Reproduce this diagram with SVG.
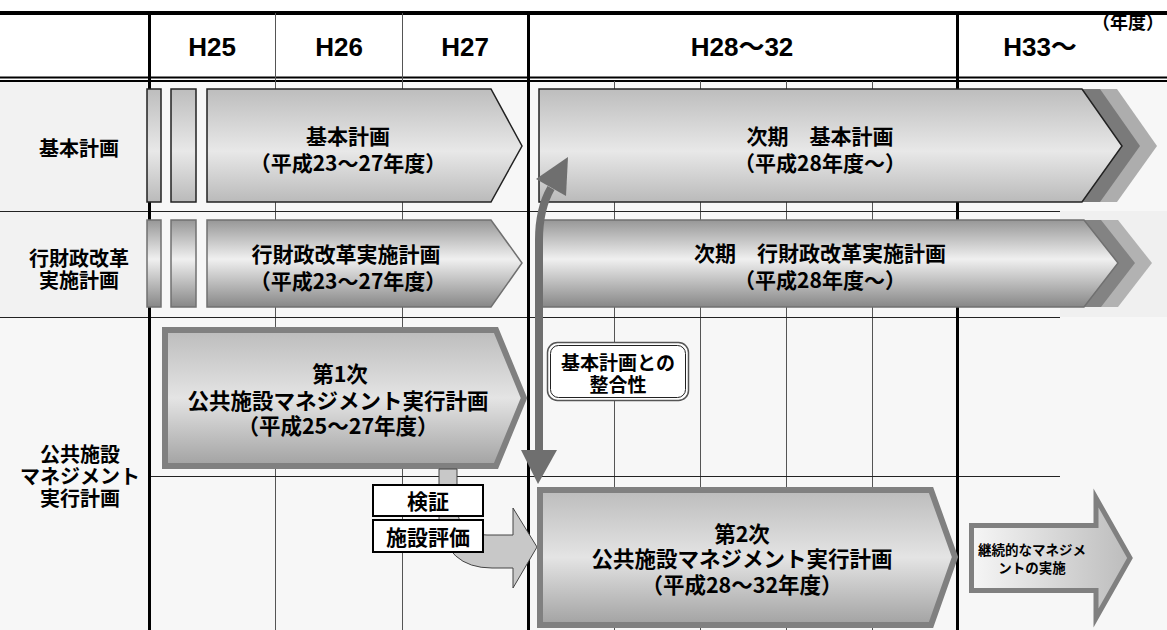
<svg xmlns="http://www.w3.org/2000/svg" width="1167" height="630" viewBox="0 0 1167 630">
<defs>
<linearGradient id="gR1" x1="0" y1="0" x2="0" y2="1"><stop offset="0" stop-color="#bdbdbd"/><stop offset="0.55" stop-color="#e8e8e8"/><stop offset="1" stop-color="#bababa"/></linearGradient>
<linearGradient id="gR2" x1="0" y1="0" x2="0" y2="1"><stop offset="0" stop-color="#979797"/><stop offset="0.45" stop-color="#f0f0f0"/><stop offset="1" stop-color="#878787"/></linearGradient>
<linearGradient id="gPlan" x1="0" y1="0" x2="0" y2="1"><stop offset="0" stop-color="#bcbcbc"/><stop offset="0.5" stop-color="#e4e4e4"/><stop offset="1" stop-color="#a2a2a2"/></linearGradient>
<linearGradient id="gCont" x1="0" y1="0" x2="1" y2="0"><stop offset="0" stop-color="#f6f6f6"/><stop offset="1" stop-color="#bcbcbc"/></linearGradient>
</defs>
<style>
.hdr{font-family:"Liberation Sans","Noto Sans CJK JP",sans-serif;font-size:26px;font-weight:bold;text-anchor:middle;dominant-baseline:central;fill:#000}
.jp{font-family:"Noto Sans CJK JP",sans-serif;font-weight:bold;text-anchor:middle;dominant-baseline:central;fill:#000}
.lbl{font-size:20px}
.t20{font-size:21px}
.t21{font-size:21.5px}
.thick{stroke:#000;stroke-width:3}
.thin{stroke:#555;stroke-width:1}
.hl{stroke:#222;stroke-width:1}
.r1{fill:url(#gR1);stroke:#222;stroke-width:1.5}
.r2{fill:url(#gR2);stroke:#707070;stroke-width:1.5}
.plan{fill:url(#gPlan);stroke:#808080;stroke-width:6;stroke-linejoin:miter}
.box{fill:#fff;stroke:#000;stroke-width:2}
</style>
<g id="background">
<rect x="0" y="0" width="1167" height="630" fill="#fff"/>
<rect x="0" y="82" width="1167" height="548" fill="#f7f7f7"/>
<rect x="0" y="82" width="149" height="236" fill="#f2f2f2"/>
<rect x="1060" y="211" width="107" height="106" fill="#f0f0f0"/>
</g>
<g id="grid">
<line x1="0" y1="13" x2="1167" y2="13" stroke="#000" stroke-width="4"/>
<line x1="0" y1="77.5" x2="1167" y2="77.5" stroke="#000" stroke-width="2"/>
<line x1="0" y1="81" x2="1167" y2="81" stroke="#000" stroke-width="2"/>
<line class="thin" x1="275.5" y1="13" x2="275.5" y2="630"/>
<line class="thin" x1="402.5" y1="13" x2="402.5" y2="630"/>
<line class="thin" x1="614.5" y1="81" x2="614.5" y2="630"/>
<line class="thin" x1="700.5" y1="81" x2="700.5" y2="630"/>
<line class="thin" x1="786.5" y1="81" x2="786.5" y2="630"/>
<line class="thin" x1="872.5" y1="81" x2="872.5" y2="630"/>
<line class="hl" x1="0" y1="211.5" x2="1060" y2="211.5"/>
<line class="hl" x1="0" y1="317.5" x2="1060" y2="317.5"/>
<line class="hl" x1="149" y1="476.5" x2="1060" y2="476.5"/>
<line class="thick" x1="149.5" y1="13" x2="149.5" y2="630"/>
<line class="thick" x1="528.5" y1="13" x2="528.5" y2="630"/>
<line class="thick" x1="957.5" y1="13" x2="957.5" y2="630"/>
</g>
<g id="header">
<text class="hdr" x="212" y="47">H25</text>
<text class="hdr" x="339" y="47">H26</text>
<text class="hdr" x="465" y="47">H27</text>
<text class="hdr" x="742" y="47">H28～32</text>
<text class="hdr" x="1040" y="47">H33～</text>
<text class="jp" x="1128" y="21" style="font-size:18px">（年度）</text>
</g>
<g id="row-labels">
<text class="jp lbl" x="79" y="147">基本計画</text>
<text class="jp lbl" x="79" y="257">行財政改革</text>
<text class="jp lbl" x="79" y="279">実施計画</text>
<text class="jp lbl" x="80" y="453">公共施設</text>
<text class="jp lbl" x="80" y="475">マネジメント</text>
<text class="jp lbl" x="80" y="497">実行計画</text>
</g>
<g id="kihon-prev">
<rect class="r1" x="147" y="89" width="14" height="113"/>
<rect class="r1" x="171" y="89" width="25" height="113"/>
<polygon class="r1" points="207,89 491,89 522,146 491,202 207,202"/>
<text class="jp t20" x="348" y="135">基本計画</text>
<text class="jp t20" x="348" y="162">（平成23～27年度）</text>
</g>
<g id="gyozai-prev">
<rect class="r2" x="147" y="220" width="14" height="87"/>
<rect class="r2" x="171" y="220" width="25" height="87"/>
<polygon class="r2" points="207,220 491,220 522,263 491,307 207,307"/>
<text class="jp t20" x="346" y="253">行財政改革実施計画</text>
<text class="jp t20" x="348" y="280">（平成23～27年度）</text>
</g>
<g id="kihon-next">
<polygon fill="#adadad" points="574,89 1117,89 1157,146 1117,202 574,202"/>
<polygon fill="#7a7a7a" points="557,89 1100,89 1140,146 1100,202 557,202"/>
<polygon class="r1" points="539,89 1082,89 1122,146 1082,202 539,202"/>
<text class="jp t20" x="820" y="135">次期　基本計画</text>
<text class="jp t20" x="820" y="162">（平成28年度～）</text>
</g>
<g id="gyozai-next">
<polygon fill="#b2b2b2" points="574,220 1118,220 1152,263 1118,307 574,307"/>
<polygon fill="#838383" points="557,220 1101,220 1135,263 1101,307 557,307"/>
<polygon class="r2" points="540,220 1084,220 1118,263 1084,307 540,307"/>
<text class="jp t20" x="820" y="252">次期　行財政改革実施計画</text>
<text class="jp t20" x="820" y="279">（平成28年度～）</text>
</g>
<g id="plan1">
<polygon class="plan" points="165,330 496,330 524,398 496,466 165,466"/>
<text class="jp t21" x="340" y="372">第1次</text>
<text class="jp t21" x="338" y="399">公共施設マネジメント実行計画</text>
<text class="jp t21" x="338" y="424">（平成25～27年度）</text>
</g>
<g id="connectors">
<path d="M539,452 L539,240 Q539,209 551,188" fill="none" stroke="#6f6f6f" stroke-width="8"/>
<polygon fill="#6f6f6f" points="521,450 557,450 538,484"/>
<polygon fill="#6f6f6f" points="568,157 536,179 566,196"/>
<path d="M439,469 L457,469 L457,505 Q457,535 487,535 L513,535 L513,508 L537,547 L513,588 L513,568 L492,568 Q446,568 439,520 Z" fill="#c8c8c8" stroke="#444" stroke-width="1"/>
</g>
<g id="consistency">
<rect x="547.5" y="342.5" width="141" height="58" rx="10" fill="#fff" stroke="#555" stroke-width="1.5"/>
<rect x="550.5" y="345.5" width="135" height="52" rx="8" fill="none" stroke="#222" stroke-width="1"/>
<text class="jp" x="618" y="361" style="font-size:19px">基本計画との</text>
<text class="jp" x="618" y="383" style="font-size:19px">整合性</text>
</g>
<g id="kensho">
<rect class="box" x="373" y="485" width="110" height="31"/>
<text class="jp t20" x="428" y="500">検証</text>
</g>
<g id="shisetsu-hyoka">
<rect class="box" x="373" y="520" width="110" height="32"/>
<text class="jp t20" x="428" y="536">施設評価</text>
</g>
<g id="plan2">
<polygon class="plan" points="540,490 931,490 955,557 931,625 540,625"/>
<text class="jp t21" x="742" y="532">第2次</text>
<text class="jp t21" x="742" y="557">公共施設マネジメント実行計画</text>
<text class="jp t21" x="742" y="583">（平成28～32年度）</text>
</g>
<g id="continuous">
<polygon fill="url(#gCont)" stroke="#808080" stroke-width="5" points="971.5,525.5 1096,525.5 1096,498 1130,558 1096,618 1096,590.5 971.5,590.5"/>
<text class="jp" x="1032" y="549" style="font-size:13.5px">継続的なマネジメ</text>
<text class="jp" x="1032" y="567" style="font-size:13.5px">ントの実施</text>
</g>
</svg>
